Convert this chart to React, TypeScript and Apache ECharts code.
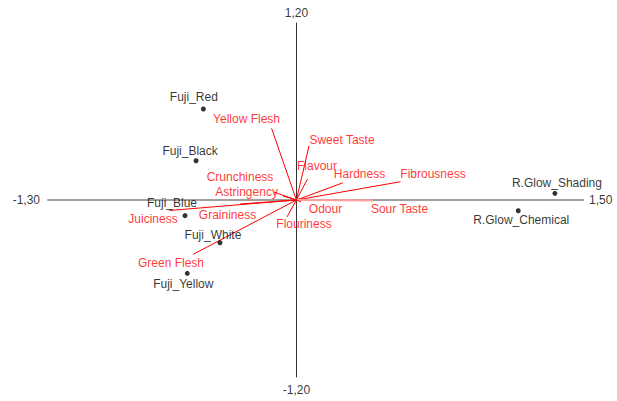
import React, { useEffect, useRef } from "react";
import * as echarts from "echarts";

// Axis ranges and end labels
const xRange = [-1.3, 1.5];
const yRange = [-1.2, 1.2];
const xTickLabels = ["-1,30", "1,50"];
const yTickLabels = ["-1,20", "1,20"];

// Observations (cultivars)
const obsNames = ["Fuji_Red", "Fuji_Black", "Fuji_Blue", "Fuji_White", "Fuji_Yellow", "R.Glow_Shading", "R.Glow_Chemical"];
const obsX = [-0.487, -0.525, -0.583, -0.4, -0.571, 1.353, 1.161];
const obsY = [0.617, 0.266, -0.106, -0.29, -0.497, 0.045, -0.073];

// Variable vectors (attributes)
const varNames = ["Yellow Flesh", "Sweet Taste", "Flavour", "Hardness", "Fibrousness", "Sour Taste", "Odour", "Flouriness", "Green Flesh", "Juiciness", "Graininess", "Astringency", "Crunchiness"];
const varX = [-0.13, 0.066, 0.058, 0.244, 0.545, 0.401, 0.024, -0.049, -0.541, -0.664, -0.295, -0.117, -0.07];
const varY = [0.486, 0.366, 0.142, 0.117, 0.124, -0.003, -0.014, -0.115, -0.369, -0.071, -0.027, 0.054, 0.027];

// Label placement (pixel offsets from marker, styling only)
const obsLabelOffsets = [[-9.5, -11.5], [-6, -10], [-13, -12.5], [-7, -7.5], [-4, 10.5], [2, -10.5], [3, 9.5]];
const varLabelOffsets = [[-25, -9], [33, -6], [9.5, -13], [16.5, -9], [32.5, -8], [26.5, 8.5], [24.5, 7], [17, 7], [-22, 8.5], [-16.5, 8.5], [-12.5, 10.7], [-27.5, 0], [-43, -19]];
const varLineColors = ["#ff0000", "#ff0000", "#ff0000", "#ff0000", "#ff0000", "#ffa0a0", "#ff0000", "#ff0000", "#ff0000", "#ff0000", "#ff0000", "#ff0000", "#ff0000"];

const FONT = "Liberation Sans";

export default function App() {
  const ref = useRef<HTMLDivElement>(null);
  useEffect(() => {
    document.body.style.margin = "0";
    const chart = echarts.init(ref.current!, null, { renderer: "svg" });
    const labelBase = { fontFamily: FONT, fontSize: 12 };
    const option: any = {
      animation: false,
      backgroundColor: "#ffffff",
      grid: { left: 48, right: 34, top: 23, bottom: 24 },
      xAxis: {
        type: "value",
        min: xRange[0],
        max: xRange[1],
        axisLine: { show: true, onZero: true, lineStyle: { color: "#a0a0a0", width: 2 } },
        axisTick: { show: false },
        axisLabel: { show: false },
        splitLine: { show: false },
      },
      yAxis: {
        type: "value",
        min: yRange[0],
        max: yRange[1],
        axisLine: { show: true, onZero: true, lineStyle: { color: "#333333", width: 1 } },
        axisTick: { show: false },
        axisLabel: { show: false },
        splitLine: { show: false },
      },
      series: [
        {
          type: "lines",
          coordinateSystem: "cartesian2d",
          silent: true,
          z: 3,
          data: varNames.map((n, i) => ({
            coords: [[0, 0], [varX[i], varY[i]]],
            lineStyle: { color: varLineColors[i], width: i === 5 ? 2 : 1 },
          })),
          lineStyle: { color: "#ff0000", width: 1, opacity: 1 },
        },
        {
          type: "scatter",
          symbolSize: 0,
          z: 4,
          data: varNames.map((n, i) => ({
            value: [varX[i], varY[i]],
            name: n,
            label: { offset: varLabelOffsets[i] },
          })),
          label: {
            show: true,
            position: "inside",
            formatter: (p: any) => p.name,
            color: "#ff0000",
            ...labelBase,
          },
        },
        {
          type: "scatter",
          symbol: "circle",
          symbolSize: 5,
          z: 5,
          itemStyle: { color: "#000000" },
          data: obsNames.map((n, i) => ({
            value: [obsX[i], obsY[i]],
            name: n,
            label: { offset: obsLabelOffsets[i] },
          })),
          label: {
            show: true,
            position: "inside",
            formatter: (p: any) => p.name,
            color: "#000000",
            ...labelBase,
          },
        },
        {
          type: "scatter",
          symbolSize: 0,
          z: 5,
          data: [
            { value: [xRange[0], 0], name: xTickLabels[0], label: { position: "left", distance: 8 } },
            { value: [xRange[1], 0], name: xTickLabels[1], label: { position: "right", distance: 6 } },
            { value: [0, yRange[0]], name: yTickLabels[0], label: { position: "bottom", distance: 7 } },
            { value: [0, yRange[1]], name: yTickLabels[1], label: { position: "top", distance: 4 } },
          ],
          label: {
            show: true,
            formatter: (p: any) => p.name,
            color: "#000000",
            ...labelBase,
          },
        },
      ],
    };
    chart.setOption(option);
    return () => chart.dispose();
  }, []);
  return <div ref={ref} style={{ width: 617, height: 401 }} />;
}
